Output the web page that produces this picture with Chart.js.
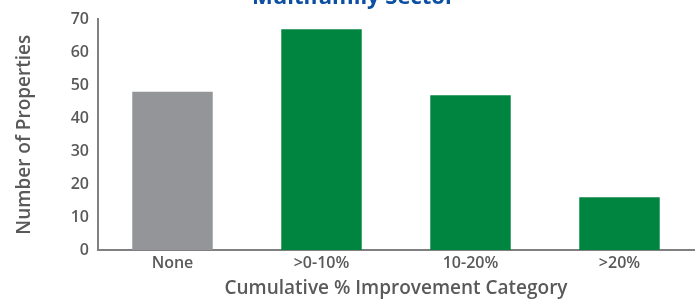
<!DOCTYPE html>
<html>
<head>
<meta charset="utf-8">
<script src="https://cdn.jsdelivr.net/npm/chart.js@4"></script>
<style>
  html, body { margin: 0; padding: 0; background: #fff; overflow: hidden; }
  #wrap { position: absolute; left: 0; top: -20px; width: 697px; height: 320px; }
</style>
</head>
<body>
<div id="wrap"><canvas id="chart"></canvas></div>
<script>
const categories = ['None', '>0-10%', '10-20%', '>20%'];
const propertyCounts = [48, 67, 47, 16];
const barColors = ['#939598', '#008540', '#008540', '#008540'];
const yTicks = [0, 10, 20, 30, 40, 50, 60, 70];

const textGray = '#595959';
const fontFamily = '"Open Sans", "Noto Sans", sans-serif';

new Chart(document.getElementById('chart').getContext('2d'), {
    type: 'bar',
    data: {
        labels: categories,
        datasets: [{
            data: propertyCounts,
            backgroundColor: barColors,
            categoryPercentage: 1,
            barPercentage: 0.54
        }]
    },
    options: {
        responsive: true,
        maintainAspectRatio: false,
        animation: false,
        layout: { padding: { left: 13, right: 3, top: 0, bottom: 0 } },
        plugins: {
            legend: { display: false },
            tooltip: { enabled: false },
            title: {
                display: true,
                text: 'Multifamily Sector',
                color: '#0b4ea2',
                font: { family: fontFamily, size: 22, weight: 'bold' },
                padding: { top: 5, bottom: 8 }
            }
        },
        scales: {
            x: {
                grid: { display: false, drawTicks: false },
                border: { color: '#808080', width: 2 },
                ticks: { color: textGray, font: { family: fontFamily, size: 16, weight: '600' }, padding: 4 },
                title: {
                    display: true,
                    text: 'Cumulative % Improvement Category',
                    color: textGray,
                    font: { family: fontFamily, size: 19, weight: '600' },
                    padding: { top: 0, bottom: 0 }
                }
            },
            y: {
                min: 0,
                max: 70,
                afterBuildTicks: axis => { axis.ticks = yTicks.map(v => ({ value: v })); },
                afterFit: axis => { axis.width = 85; },
                grid: { display: false, drawTicks: false },
                border: { color: '#808080', width: 2 },
                ticks: { color: textGray, font: { family: fontFamily, size: 16, weight: '600' }, padding: 9 },
                title: {
                    display: true,
                    text: 'Number of Properties',
                    color: textGray,
                    font: { family: fontFamily, size: 19, weight: '600' },
                    padding: { top: 0, bottom: 0 }
                }
            }
        }
    }
});
</script>
</body>
</html>
